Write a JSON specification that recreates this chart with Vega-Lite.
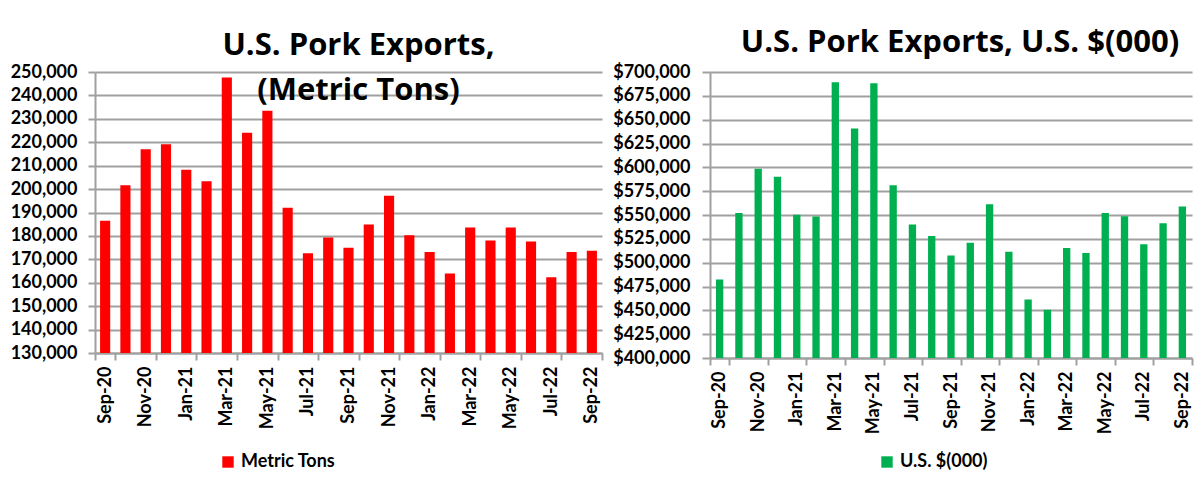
{
  "$schema": "https://vega.github.io/schema/vega-lite/v6.json",
  "background": "white",
  "padding": {"left": 10, "top": 27, "right": 5, "bottom": 0},
  "spacing": 9,
  "datasets": {
    "pork": [
      {"month": "Sep-20", "tons": 186500, "usd": 482300},
      {"month": "Oct-20", "tons": 201600, "usd": 552000},
      {"month": "Nov-20", "tons": 217000, "usd": 598600},
      {"month": "Dec-20", "tons": 219100, "usd": 590200},
      {"month": "Jan-21", "tons": 208300, "usd": 550300},
      {"month": "Feb-21", "tons": 203300, "usd": 548300},
      {"month": "Mar-21", "tons": 247700, "usd": 689200},
      {"month": "Apr-21", "tons": 224100, "usd": 640700},
      {"month": "May-21", "tons": 233400, "usd": 688200},
      {"month": "Jun-21", "tons": 192000, "usd": 581200},
      {"month": "Jul-21", "tons": 172600, "usd": 540000},
      {"month": "Aug-21", "tons": 179300, "usd": 527900},
      {"month": "Sep-21", "tons": 174900, "usd": 507600},
      {"month": "Oct-21", "tons": 184900, "usd": 520800},
      {"month": "Nov-21", "tons": 197100, "usd": 561400},
      {"month": "Dec-21", "tons": 180300, "usd": 511500},
      {"month": "Jan-22", "tons": 173100, "usd": 461300},
      {"month": "Feb-22", "tons": 163900, "usd": 450700},
      {"month": "Mar-22", "tons": 183600, "usd": 515300},
      {"month": "Apr-22", "tons": 178000, "usd": 510100},
      {"month": "May-22", "tons": 183600, "usd": 552000},
      {"month": "Jun-22", "tons": 177600, "usd": 548600},
      {"month": "Jul-22", "tons": 162300, "usd": 519400},
      {"month": "Aug-22", "tons": 173100, "usd": 541400},
      {"month": "Sep-22", "tons": 173700, "usd": 559000}
    ]
  },
  "data": {"name": "pork"},
  "config": {
    "font": "Lato",
    "view": {"stroke": null},
    "axis": {
      "labelFont": "Lato", "labelFontWeight": "bold", "labelColor": "#000000", "labelFontSize": 18,
      "domainColor": "#a0a0a0", "domainWidth": 2, "tickColor": "#a0a0a0", "tickWidth": 2,
      "gridColor": "#a0a0a0", "gridWidth": 2, "title": null, "labelOverlap": false
    },
    "title": {"font": "Open Sans", "fontSize": 31, "fontWeight": "bold", "color": "#000000", "anchor": "middle"},
    "legend": {
      "orient": "none", "direction": "horizontal", "title": null,
      "symbolType": "square", "symbolSize": 130, "symbolStrokeWidth": 0,
      "labelFont": "Lato", "labelFontSize": 18, "labelFontWeight": "bold", "labelColor": "#000000"
    }
  },
  "resolve": {"scale": {"x": "independent", "y": "independent", "color": "independent"}, "legend": {"color": "independent"}},
  "hconcat": [
    {
      "width": 507, "height": 281,
      "title": {"text": ["U.S. Pork Exports,", "(Metric Tons)"], "lineHeight": 45, "dx": 10, "offset": -44},
      "mark": {"type": "bar", "width": {"band": 0.5}, "clip": true},
      "encoding": {
        "x": {
          "field": "month", "type": "ordinal", "sort": null,
          "scale": {"paddingInner": 0, "paddingOuter": 0},
          "axis": {
            "values": ["Sep-20", "Nov-20", "Jan-21", "Mar-21", "May-21", "Jul-21", "Sep-21", "Nov-21", "Jan-22", "Mar-22", "May-22", "Jul-22", "Sep-22"],
            "labelAngle": -90, "tickBand": "extent", "tickSize": 7, "labelPadding": 6, "grid": false
          }
        },
        "y": {
          "field": "tons", "type": "quantitative",
          "scale": {"domain": [130000, 250000], "nice": false, "zero": false},
          "axis": {
            "values": [130000, 140000, 150000, 160000, 170000, 180000, 190000, 200000, 210000, 220000, 230000, 240000, 250000],
            "format": ",d", "tickSize": 7, "labelPadding": 11
          }
        },
        "color": {
          "datum": "Metric Tons", "type": "nominal",
          "scale": {"range": ["#ff0000"]},
          "legend": {"legendX": 124, "legendY": 381}
        }
      }
    },
    {
      "width": 482, "height": 286,
      "title": {"text": "U.S. Pork Exports, U.S. $(000)", "dx": 9, "offset": 4},
      "mark": {"type": "bar", "width": {"band": 0.38}, "clip": true},
      "encoding": {
        "x": {
          "field": "month", "type": "ordinal", "sort": null,
          "scale": {"paddingInner": 0, "paddingOuter": 0},
          "axis": {
            "values": ["Sep-20", "Nov-20", "Jan-21", "Mar-21", "May-21", "Jul-21", "Sep-21", "Nov-21", "Jan-22", "Mar-22", "May-22", "Jul-22", "Sep-22"],
            "labelAngle": -90, "tickBand": "extent", "tickSize": 7, "labelPadding": 6, "grid": false
          }
        },
        "y": {
          "field": "usd", "type": "quantitative",
          "scale": {"domain": [400000, 700000], "nice": false, "zero": false},
          "axis": {
            "values": [400000, 425000, 450000, 475000, 500000, 525000, 550000, 575000, 600000, 625000, 650000, 675000, 700000],
            "format": "$,d", "tickSize": 8, "labelPadding": 12
          }
        },
        "color": {
          "datum": "U.S. $(000)", "type": "nominal",
          "scale": {"range": ["#00b050"]},
          "legend": {"legendX": 168, "legendY": 381}
        }
      }
    }
  ]
}
